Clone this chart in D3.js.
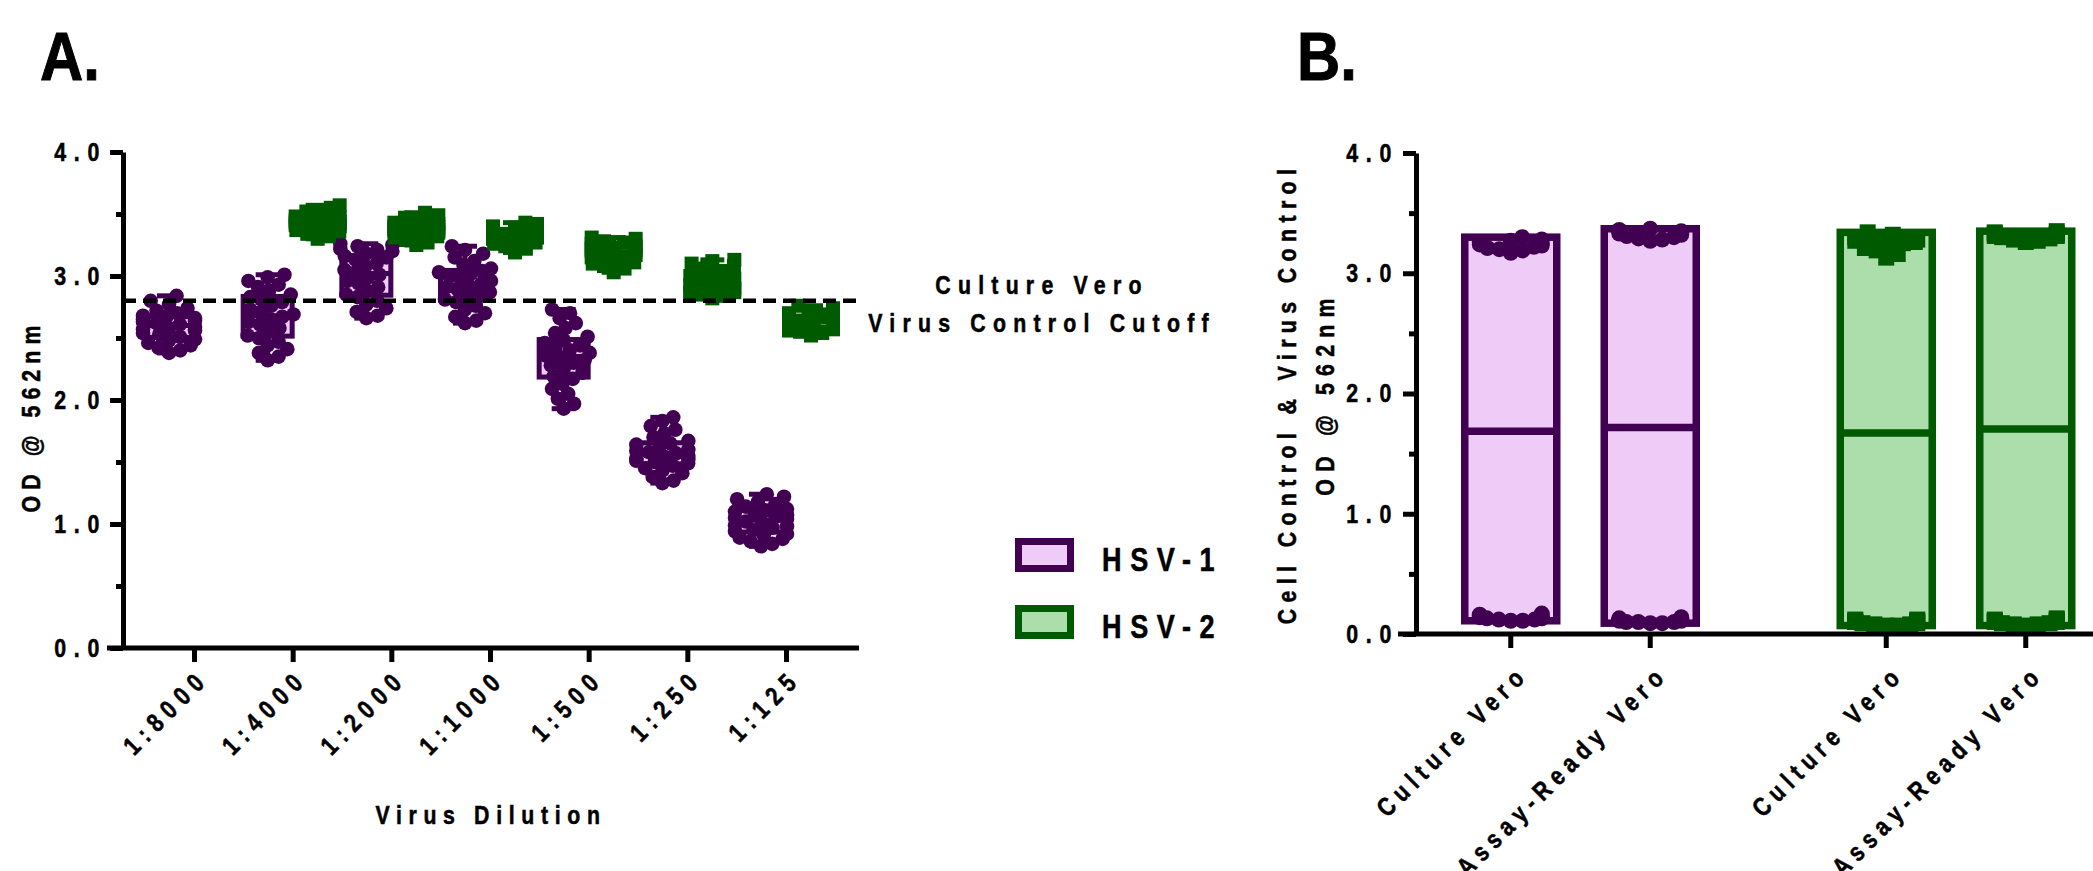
<!DOCTYPE html>
<html>
<head>
<meta charset="utf-8">
<script src="https://cdn.jsdelivr.net/npm/d3@7"></script>
<style>
  body { margin: 0; background: #fff; }
  svg { display: block; }
  text { font-family: "Liberation Sans", Arial, sans-serif; font-weight: bold; fill: #000; stroke: #000; stroke-width: 0.55px; }
</style>
</head>
<body>
<svg id="fig" width="2093" height="871"></svg>
<script>
// ---- data ----
const dilutions = ["1:8000", "1:4000", "1:2000", "1:1000", "1:500", "1:250", "1:125"];

// HSV-1 OD values per dilution
const hsv1_8000 = [2.38, 2.40, 2.42, 2.44, 2.46, 2.48, 2.49, 2.51, 2.53, 2.54, 2.56, 2.57, 2.58, 2.59, 2.61, 2.62, 2.63, 2.64, 2.65, 2.66, 2.67, 2.68, 2.70, 2.72, 2.74, 2.77, 2.80, 2.84];
const hsv1_4000 = [2.32, 2.35, 2.38, 2.41, 2.44, 2.47, 2.50, 2.52, 2.55, 2.58, 2.61, 2.63, 2.65, 2.67, 2.69, 2.71, 2.73, 2.76, 2.79, 2.81, 2.83, 2.85, 2.88, 2.91, 2.93, 2.96, 2.99, 3.01];
const hsv1_2000 = [2.66, 2.68, 2.71, 2.74, 2.77, 2.80, 2.83, 2.85, 2.88, 2.91, 2.94, 2.96, 2.99, 3.01, 3.03, 3.05, 3.08, 3.10, 3.13, 3.15, 3.16, 3.18, 3.20, 3.21, 3.22, 3.24, 3.25, 3.26];
const hsv1_1000 = [2.62, 2.64, 2.67, 2.70, 2.73, 2.76, 2.79, 2.81, 2.83, 2.85, 2.87, 2.89, 2.91, 2.92, 2.94, 2.96, 2.98, 3.00, 3.02, 3.03, 3.04, 3.06, 3.09, 3.12, 3.15, 3.18, 3.21, 3.24];
const hsv1_500  = [1.93, 1.97, 2.01, 2.05, 2.09, 2.13, 2.17, 2.19, 2.22, 2.25, 2.28, 2.30, 2.32, 2.34, 2.36, 2.38, 2.40, 2.42, 2.44, 2.46, 2.48, 2.51, 2.54, 2.58, 2.62, 2.66, 2.70, 2.73];
const hsv1_250  = [1.33, 1.35, 1.38, 1.41, 1.43, 1.45, 1.47, 1.49, 1.50, 1.51, 1.52, 1.53, 1.54, 1.55, 1.57, 1.58, 1.59, 1.60, 1.62, 1.64, 1.65, 1.67, 1.70, 1.73, 1.76, 1.79, 1.83, 1.86];
const hsv1_125  = [0.82, 0.84, 0.86, 0.88, 0.89, 0.91, 0.92, 0.94, 0.95, 0.97, 0.98, 0.99, 1.01, 1.02, 1.04, 1.05, 1.06, 1.07, 1.08, 1.10, 1.11, 1.12, 1.14, 1.16, 1.18, 1.20, 1.22, 1.24];

// HSV-2 OD values per dilution (no points at 1:8000)
const hsv2_8000 = [];
const hsv2_4000 = [3.30, 3.32, 3.34, 3.36, 3.37, 3.39, 3.40, 3.41, 3.42, 3.43, 3.43, 3.44, 3.45, 3.46, 3.47, 3.48, 3.50, 3.52, 3.55, 3.57];
const hsv2_2000 = [3.25, 3.27, 3.29, 3.31, 3.32, 3.34, 3.35, 3.36, 3.37, 3.38, 3.38, 3.39, 3.40, 3.41, 3.42, 3.43, 3.45, 3.47, 3.49, 3.51];
const hsv2_1000 = [3.19, 3.22, 3.24, 3.26, 3.27, 3.29, 3.30, 3.31, 3.32, 3.33, 3.33, 3.34, 3.35, 3.36, 3.37, 3.38, 3.39, 3.40, 3.42, 3.43];
const hsv2_500  = [3.03, 3.06, 3.08, 3.10, 3.11, 3.13, 3.15, 3.16, 3.17, 3.18, 3.20, 3.21, 3.22, 3.23, 3.24, 3.26, 3.27, 3.28, 3.30, 3.31];
const hsv2_250  = [2.82, 2.84, 2.85, 2.86, 2.87, 2.88, 2.90, 2.92, 2.93, 2.94, 2.96, 2.98, 3.00, 3.02, 3.04, 3.06, 3.08, 3.10, 3.12, 3.13];
const hsv2_125  = [2.52, 2.54, 2.55, 2.56, 2.57, 2.59, 2.60, 2.61, 2.62, 2.63, 2.63, 2.64, 2.65, 2.66, 2.67, 2.69, 2.70, 2.72, 2.74, 2.76];

const cutoff = 2.80;
const cutoffLabel = ["Culture Vero", "Virus Control Cutoff"];

// panel B: cell control (high) and virus control (low) wells
const cellTypes = ["Culture Vero", "Assay-Ready Vero"];
const viruses = ["HSV-1", "HSV-2"];
const hsv1CultureCC = [3.17, 3.19, 3.20, 3.21, 3.22, 3.23, 3.24, 3.25, 3.26, 3.27, 3.28, 3.30];
const hsv1CultureVC = [0.11, 0.11, 0.12, 0.12, 0.13, 0.13, 0.14, 0.14, 0.15, 0.15, 0.16, 0.17];
const hsv1AssayCC   = [3.27, 3.28, 3.29, 3.30, 3.31, 3.32, 3.33, 3.34, 3.35, 3.35, 3.36, 3.37];
const hsv1AssayVC   = [0.09, 0.09, 0.10, 0.10, 0.10, 0.11, 0.11, 0.12, 0.12, 0.13, 0.13, 0.14];
const hsv2CultureCC = [3.13, 3.16, 3.19, 3.21, 3.23, 3.25, 3.26, 3.27, 3.28, 3.29, 3.30, 3.32, 3.34];
const hsv2CultureVC = [0.07, 0.07, 0.08, 0.08, 0.09, 0.09, 0.10, 0.10, 0.10, 0.11, 0.11, 0.12, 0.12];
const hsv2AssayCC   = [3.26, 3.27, 3.28, 3.29, 3.30, 3.31, 3.31, 3.32, 3.33, 3.33, 3.34, 3.35];
const hsv2AssayVC   = [0.07, 0.08, 0.08, 0.09, 0.09, 0.10, 0.10, 0.11, 0.11, 0.12, 0.12, 0.13];

const yMajor = [0, 1, 2, 3, 4];
const yMinor = [0.5, 1.5, 2.5, 3.5];

// ---- style ----
const col = {
    "HSV-1": { dark: "#420052", light: "#efcbf7" },
    "HSV-2": { dark: "#005a00", light: "#acdeac" }
};
const FS = "26px";
const NARROW = 0.82; // figure uses a narrow bold face; squeeze Liberation Sans to match

const svg = d3.select("#fig");

// squeeze a text horizontally (along its own baseline)
const narrow = (sel, k = NARROW) => sel.each(function() {
    const t = d3.select(this);
    const x = +t.attr("x") || 0, y = +t.attr("y") || 0;
    const tr = t.attr("transform") || "";
    t.attr("x", 0).attr("y", 0).attr("transform", `${tr} translate(${x},${y}) scale(${k},1)`);
});

// spread points sideways so they don't stack (like a scatter-dot plot)
const dodge = (vals, y, diam, maxW) => {
    const pts = vals.map(v => ({ v: v, y: y(v) })).sort((a, b) => b.y - a.y);
    const placed = [];
    pts.forEach(p => {
        const cands = [0];
        placed.forEach(q => {
            const dy = Math.abs(p.y - q.y);
            if (dy < diam) {
                const dx = Math.sqrt(diam * diam - dy * dy);
                cands.push(q.x + dx, q.x - dx);
            }
        });
        cands.sort((a, b) => Math.abs(a) - Math.abs(b));
        let best = cands.find(x => placed.every(q => (q.x - x) ** 2 + (q.y - p.y) ** 2 >= diam * diam - 0.5));
        if (best === undefined) best = 0;
        best = Math.max(-maxW, Math.min(maxW, best));
        p.x = best;
        placed.push(p);
    });
    return placed;
};

const drawDots = (g, pts, cx, series, r) => {
    if (series === "HSV-1") {
        g.selectAll(null).data(pts).enter().append("circle")
            .attr("cx", d => cx + d.x).attr("cy", d => d.y).attr("r", r)
            .attr("fill", col[series].dark);
    } else {
        g.selectAll(null).data(pts).enter().append("rect")
            .attr("x", d => cx + d.x - r).attr("y", d => d.y - r)
            .attr("width", 2 * r).attr("height", 2 * r)
            .attr("fill", col[series].dark);
    }
};

const styleAxis = (g, w, ls) => {
    g.selectAll("line").attr("stroke", "#000").attr("stroke-width", w);
    g.selectAll("path").attr("stroke", "#000").attr("stroke-width", w);
    g.selectAll("text").style("font-size", FS).style("letter-spacing", ls + "px").attr("fill", "#000");
};

// ================= panel A =================
const yA = d3.scaleLinear().domain([0, 4]).range([648, 152]);
const xA = d3.scalePoint().domain(dilutions).range([194, 786]);
const inner = d3.scalePoint().domain(viruses).range([-25, 25]);
const axA = 123;

svg.append("text").attr("x", 40).attr("y", 80).style("font-size", "68px").style("stroke-width", "1px").text("A.").call(narrow, 0.88);

const hsv1Sets = [hsv1_8000, hsv1_4000, hsv1_2000, hsv1_1000, hsv1_500, hsv1_250, hsv1_125];
const hsv2Sets = [hsv2_8000, hsv2_4000, hsv2_2000, hsv2_1000, hsv2_500, hsv2_250, hsv2_125];

const boxW = 49;
const gA = svg.append("g");
[["HSV-1", hsv1Sets], ["HSV-2", hsv2Sets]].forEach(([series, sets]) => {
    sets.forEach((vals, i) => {
        if (!vals.length) return;
        const s = vals.slice().sort(d3.ascending);
        const q1 = d3.quantile(s, 0.25), med = d3.quantile(s, 0.5), q3 = d3.quantile(s, 0.75);
        const lo = s[0], hi = s[s.length - 1];
        const cx = xA(dilutions[i]) + inner(series);
        const g = gA.append("g");
        const c = col[series];
        g.append("line").attr("x1", cx).attr("x2", cx).attr("y1", yA(hi)).attr("y2", yA(lo))
            .attr("stroke", c.dark).attr("stroke-width", 5);
        [lo, hi].forEach(v => g.append("line").attr("x1", cx - 12).attr("x2", cx + 12)
            .attr("y1", yA(v)).attr("y2", yA(v)).attr("stroke", c.dark).attr("stroke-width", 5));
        g.append("rect").attr("x", cx - boxW / 2).attr("width", boxW)
            .attr("y", yA(q3)).attr("height", yA(q1) - yA(q3))
            .attr("fill", c.light).attr("stroke", c.dark).attr("stroke-width", 5);
        g.append("line").attr("x1", cx - boxW / 2).attr("x2", cx + boxW / 2)
            .attr("y1", yA(med)).attr("y2", yA(med)).attr("stroke", c.dark).attr("stroke-width", 5);
        if (series === "HSV-1") drawDots(g, dodge(vals, yA, 11.5, 26), cx, series, 7.3);
        else drawDots(g, dodge(vals, yA, 11.5, 22), cx, series, 7);
    });
});

// cutoff line
svg.append("line").attr("x1", axA).attr("x2", 857)
    .attr("y1", yA(cutoff)).attr("y2", yA(cutoff))
    .attr("stroke", "#000").attr("stroke-width", 4.5).attr("stroke-dasharray", "13 7");
svg.append("g").selectAll("text").data(cutoffLabel).enter().append("text")
    .attr("x", 1042).attr("y", (d, i) => 294 + i * 38)
    .attr("text-anchor", "middle").style("font-size", FS).style("letter-spacing", "8.8px")
    .text(d => d).call(narrow);

// axes A
const yAxA = svg.append("g").attr("transform", `translate(${axA},0)`)
    .call(d3.axisLeft(yA).tickValues(yMajor).tickSize(13).tickSizeOuter(0).tickPadding(3).tickFormat(d3.format(".1f")));
styleAxis(yAxA, 5, 9.4);
yAxA.selectAll("text").call(narrow);
const yAxAm = svg.append("g").attr("transform", `translate(${axA},0)`)
    .call(d3.axisLeft(yA).tickValues(yMinor).tickSize(7).tickSizeOuter(0).tickFormat(""));
styleAxis(yAxAm, 5, 0);
yAxAm.select(".domain").remove();

svg.append("line").attr("x1", 107).attr("x2", 859).attr("y1", yA(0)).attr("y2", yA(0))
    .attr("stroke", "#000").attr("stroke-width", 5);
const xAxA = svg.append("g").attr("transform", `translate(0,${yA(0)})`)
    .call(d3.axisBottom(xA).tickSize(14).tickSizeOuter(0));
styleAxis(xAxA, 5, 8.5);
xAxA.select(".domain").remove();
xAxA.selectAll("text").attr("x", 0).attr("y", 0).attr("dy", 0)
    .attr("transform", "translate(16,32) rotate(-45)").attr("text-anchor", "end")
    .call(narrow);

svg.append("text").attr("x", 491).attr("y", 824).attr("text-anchor", "middle")
    .style("font-size", FS).style("letter-spacing", "8.1px").text("Virus Dilution").call(narrow);
svg.append("text").attr("transform", `translate(40,416) rotate(-90)`).attr("text-anchor", "middle")
    .style("font-size", FS).style("letter-spacing", "7.4px").text("OD @ 562nm").call(narrow);

// legend
const leg = svg.append("g");
viruses.forEach((v, i) => {
    leg.append("rect").attr("x", 1018.5).attr("y", 541.5 + i * 67).attr("width", 52).attr("height", 27)
        .attr("fill", col[v].light).attr("stroke", col[v].dark).attr("stroke-width", 7);
    leg.append("text").attr("x", 1102).attr("y", 571 + i * 67)
        .style("font-size", "33px").style("letter-spacing", "10.5px").text(v).call(narrow);
});

// ================= panel B =================
const yB = d3.scaleLinear().domain([0, 4]).range([634, 153]);
const xGroup = d3.scalePoint().domain(viruses).range([1580.5, 1956]);
const xCell = d3.scalePoint().domain(cellTypes).range([-69.75, 69.75]);
const axB = 1416;

svg.append("text").attr("x", 1297).attr("y", 80).style("font-size", "68px").style("stroke-width", "1px").text("B.").call(narrow, 0.88);

const bSets = [
    { virus: "HSV-1", cell: "Culture Vero", cc: hsv1CultureCC, vc: hsv1CultureVC },
    { virus: "HSV-1", cell: "Assay-Ready Vero", cc: hsv1AssayCC, vc: hsv1AssayVC },
    { virus: "HSV-2", cell: "Culture Vero", cc: hsv2CultureCC, vc: hsv2CultureVC },
    { virus: "HSV-2", cell: "Assay-Ready Vero", cc: hsv2AssayCC, vc: hsv2AssayVC }
];
const barW = 92;
const gB = svg.append("g");
bSets.forEach(b => {
    const all = b.cc.concat(b.vc);
    const lo = d3.min(all), hi = d3.max(all), mean = d3.mean(all);
    const cx = xGroup(b.virus) + xCell(b.cell);
    const c = col[b.virus];
    const g = gB.append("g");
    g.append("rect").attr("x", cx - barW / 2).attr("width", barW)
        .attr("y", yB(hi)).attr("height", yB(lo) - yB(hi))
        .attr("fill", c.light).attr("stroke", c.dark).attr("stroke-width", 7.5);
    g.append("line").attr("x1", cx - barW / 2).attr("x2", cx + barW / 2)
        .attr("y1", yB(mean)).attr("y2", yB(mean)).attr("stroke", c.dark).attr("stroke-width", 7.5);
    drawDots(g, dodge(b.cc, yB, 12, 31), cx, b.virus, 8);
    drawDots(g, dodge(b.vc, yB, 12, 31), cx, b.virus, 8);
});

const yAxB = svg.append("g").attr("transform", `translate(${axB},0)`)
    .call(d3.axisLeft(yB).tickValues(yMajor).tickSize(13).tickSizeOuter(0).tickPadding(4).tickFormat(d3.format(".1f")));
styleAxis(yAxB, 5, 9.4);
yAxB.selectAll("text").call(narrow);
const yAxBm = svg.append("g").attr("transform", `translate(${axB},0)`)
    .call(d3.axisLeft(yB).tickValues(yMinor).tickSize(7).tickSizeOuter(0).tickFormat(""));
styleAxis(yAxBm, 5, 0);
yAxBm.select(".domain").remove();

svg.append("line").attr("x1", 1398).attr("x2", 2093).attr("y1", yB(0)).attr("y2", yB(0))
    .attr("stroke", "#000").attr("stroke-width", 5);
const xAxB = svg.append("g").attr("transform", `translate(0,${yB(0)})`);
const bTicks = bSets.map(b => ({ x: xGroup(b.virus) + xCell(b.cell), label: b.cell }));
xAxB.selectAll("line").data(bTicks).enter().append("line")
    .attr("x1", d => d.x).attr("x2", d => d.x).attr("y1", 0).attr("y2", 14)
    .attr("stroke", "#000").attr("stroke-width", 5);
xAxB.selectAll("text").data(bTicks).enter().append("text")
    .attr("transform", d => `translate(${d.x + 19},42) rotate(-45)`).attr("text-anchor", "end")
    .style("font-size", FS).style("letter-spacing", "7.6px").text(d => d.label).call(narrow);

svg.append("text").attr("transform", `translate(1296,${yB(2)}) rotate(-90)`).attr("text-anchor", "middle")
    .style("font-size", FS).style("letter-spacing", "7.8px").text("Cell Control & Virus Control").call(narrow);
svg.append("text").attr("transform", `translate(1334,${yB(2)}) rotate(-90)`).attr("text-anchor", "middle")
    .style("font-size", FS).style("letter-spacing", "8.8px").text("OD @ 562nm").call(narrow);
</script>
</body>
</html>
